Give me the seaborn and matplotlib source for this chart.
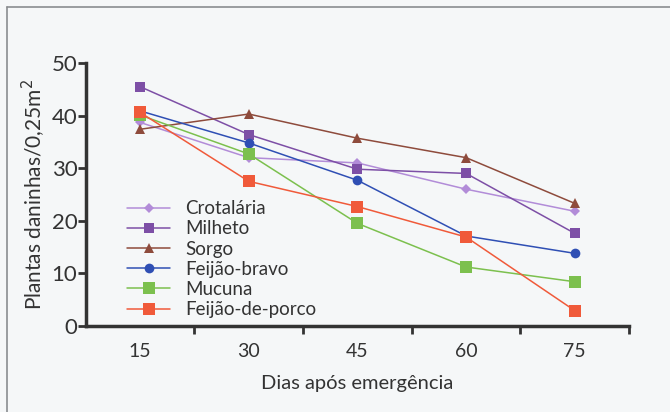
import matplotlib
matplotlib.use('Agg')
import matplotlib.pyplot as plt
from matplotlib.lines import Line2D
import seaborn as sns
import pandas as pd

dias = [15, 30, 45, 60, 75]

crotalaria = [38.7, 32.0, 31.0, 26.0, 21.8]
milheto = [45.5, 36.4, 29.8, 29.0, 17.6]
sorgo = [37.4, 40.3, 35.7, 32.0, 23.3]
feijao_bravo = [40.9, 34.8, 27.7, 17.1, 13.8]
mucuna = [40.1, 32.7, 19.5, 11.2, 8.4]
feijao_porco = [40.6, 27.5, 22.7, 16.9, 2.9]

nomes = ['Crotalária', 'Milheto', 'Sorgo', 'Feijão-bravo', 'Mucuna', 'Feijão-de-porco']
valores = [crotalaria, milheto, sorgo, feijao_bravo, mucuna, feijao_porco]

cores = ['#b28cd8', '#7d4fa6', '#8e4b3c', '#2f4fb4', '#7cc04e', '#f05a3a']
marcadores = ['D', 's', '^', 'o', 's', 's']
tamanhos = [5.5, 7.5, 7.5, 7, 8.5, 8]

sns.set_style('ticks')
plt.rcParams['font.family'] = ['Lato', 'DejaVu Sans']

fundo = '#f5f7f8'
texto = '#333333'
fig = plt.figure(figsize=(6.7, 4.12), dpi=100, facecolor=fundo)
ax = fig.add_axes([0.128, 0.209, 0.811, 0.638])
ax.set_facecolor(fundo)

for nome, vals, cor, mk, ms in zip(nomes, valores, cores, marcadores, tamanhos):
    df = pd.DataFrame({'dias': dias, 'plantas': vals})
    sns.lineplot(data=df, x='dias', y='plantas', ax=ax, color=cor, marker=mk,
                 markersize=ms, markeredgewidth=0, linewidth=1.1, label=nome)

ax.set_xlim(7.5, 82.5)
ax.set_ylim(0, 50)
ax.set_xticks(dias)
ax.set_xticks([22.5, 37.5, 52.5, 67.5, 82.5], minor=True)
ax.tick_params(axis='x', which='major', length=0, pad=12, labelsize=14, colors=texto)
ax.tick_params(axis='x', which='minor', length=6, width=2, color=texto, direction='out')
ax.set_yticks([0, 10, 20, 30, 40, 50])
ax.tick_params(axis='y', length=6, width=2, color=texto, labelsize=16, labelcolor=texto, pad=0)

for s in ['top', 'right']:
    ax.spines[s].set_visible(False)
for s in ['left', 'bottom']:
    ax.spines[s].set_linewidth(2.5)
    ax.spines[s].set_color(texto)

ax.set_xlabel('Dias após emergência', fontsize=14.5, color=texto, labelpad=11)
ax.set_ylabel('Plantas daninhas/0,25m$^2$', fontsize=15, color=texto, labelpad=3)

ax.legend(loc='lower left', bbox_to_anchor=(0.045, -0.035), frameon=False, fontsize=13.5,
          handlelength=2.3, handletextpad=0.8, labelspacing=0.17, labelcolor=texto)

# moldura da figura escaneada
fig.add_artist(Line2D([0.011, 0.011], [0.0, 0.983], color='#8a8d90', linewidth=1.2))
fig.add_artist(Line2D([0.011, 1.0], [0.983, 0.983], color='#8a8d90', linewidth=1.2))

fig.savefig('out.png', dpi=100, facecolor=fundo)
